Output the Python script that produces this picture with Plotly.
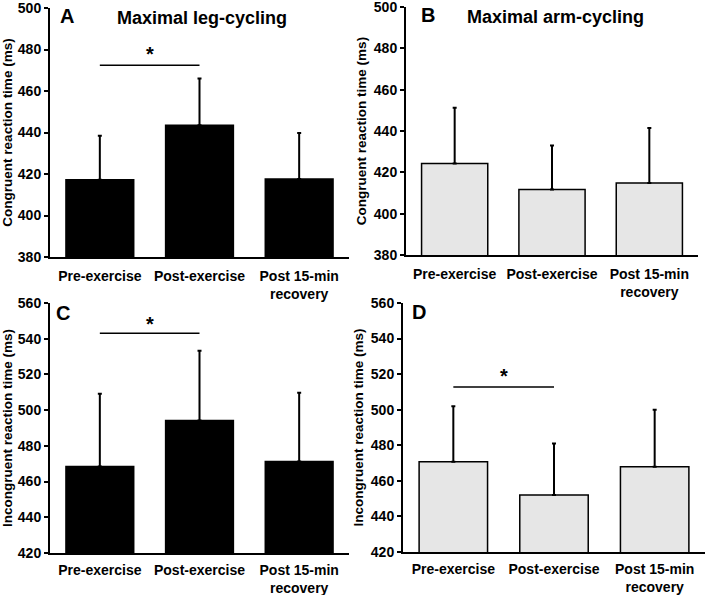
import plotly.graph_objects as go

categories = ['Pre-exercise', 'Post-exercise', 'Post 15-min<br>recovery']

# congruent reaction time (ms), mean and upper SD
leg_congruent = [417.2, 443.5, 417.6]
leg_congruent_sd = [21.2, 22.5, 22.2]
arm_congruent = [424.3, 411.7, 414.8]
arm_congruent_sd = [27.0, 21.3, 26.6]

# incongruent reaction time (ms)
leg_incongruent = [468.4, 494.2, 471.2]
leg_incongruent_sd = [40.8, 39.0, 38.5]
arm_incongruent = [470.8, 452.0, 468.0]
arm_incongruent_sd = [31.2, 29.0, 32.0]

# significance bars: (line y, star y) per panel
sig_A = [472.4, 478.0]
sig_C = [543.0, 548.0]
sig_D = [512.8, 519.0]

BLACK = '#000000'
GREY = '#e6e6e6'
FONT = 'Liberation Sans, Arial, sans-serif'

fig = go.Figure()

panels = [
    # values, sd, fill, xaxis, yaxis
    (leg_congruent, leg_congruent_sd, BLACK, 'x', 'y'),
    (arm_congruent, arm_congruent_sd, GREY, 'x2', 'y2'),
    (leg_incongruent, leg_incongruent_sd, BLACK, 'x3', 'y3'),
    (arm_incongruent, arm_incongruent_sd, GREY, 'x4', 'y4'),
]

for vals, sd, fill, xa, ya in panels:
    fig.add_trace(go.Bar(
        x=categories, y=vals, xaxis=xa, yaxis=ya,
        marker=dict(color=fill, line=dict(color=BLACK, width=1.5)),
        error_y=dict(type='data', array=sd, arrayminus=[0, 0, 0], symmetric=False,
                     color=BLACK, thickness=2, width=2),
        showlegend=False,
    ))

for sig, xa, ya in [(sig_A, 'x', 'y'), (sig_C, 'x3', 'y3'), (sig_D, 'x4', 'y4')]:
    fig.add_trace(go.Scatter(
        x=categories[:2], y=[sig[0], sig[0]], xaxis=xa, yaxis=ya,
        mode='lines', line=dict(color=BLACK, width=1.5), showlegend=False,
    ))
    fig.add_annotation(x=0.5, y=sig[1], xref=xa, yref=ya, text='<b>*</b>',
                       showarrow=False, font=dict(size=20, color=BLACK, family=FONT))

W, H = 707, 595


def px_x(a, b):
    return [a / W, b / W]


def px_y(top, bottom):
    return [1 - bottom / H, 1 - top / H]


xdom = {'x': px_x(50, 349), 'x2': px_x(406, 698), 'x3': px_x(50, 349), 'x4': px_x(403, 705)}
ydom = {'y': px_y(8, 257), 'y2': px_y(7, 255), 'y3': px_y(303, 553), 'y4': px_y(303, 552)}
yranges = {'y': [380, 500], 'y2': [380, 500], 'y3': [420, 560], 'y4': [420, 560]}
ytitles = {'y': 'Congruent reaction time (ms)', 'y2': 'Congruent reaction time (ms)',
           'y3': 'Incongruent reaction time (ms)', 'y4': 'Incongruent reaction time (ms)'}
xticklen = {'x': 5, 'x2': 5, 'x3': 3, 'x4': 3}

axis_common = dict(showline=True, linecolor=BLACK, linewidth=2, showgrid=False,
                   zeroline=False, automargin=False, ticklabeloverflow='allow',
                   tickfont=dict(family=FONT, size=14, color=BLACK))

layout = {}
for i, (xa, ya) in enumerate([('x', 'y'), ('x2', 'y2'), ('x3', 'y3'), ('x4', 'y4')]):
    suffix = '' if i == 0 else str(i + 1)
    layout['xaxis' + suffix] = dict(
        axis_common, domain=xdom[xa], anchor=ya, type='category',
        ticks='outside', ticklen=xticklen[xa], tickcolor='rgba(0,0,0,0)',
        tickprefix='<b>', ticksuffix='</b>', range=[-0.5, 2.5])
    layout['yaxis' + suffix] = dict(
        axis_common, domain=ydom[ya], anchor=xa, range=yranges[ya], dtick=20,
        ticks='outside', ticklen=4, tickwidth=1.5, tickcolor=BLACK,
        tickprefix='<b>', ticksuffix='</b>',
        title=dict(text='<b>' + ytitles[ya] + '</b>', standoff=4,
                   font=dict(family=FONT, size=13.5, color=BLACK)))

fig.update_layout(**layout)

fig.update_layout(
    width=W, height=H,
    margin=dict(l=0, r=0, t=0, b=0, autoexpand=False),
    paper_bgcolor='white', plot_bgcolor='white',
    bargap=0.32,
    font=dict(family=FONT, color=BLACK),
)

# panel letters and titles
labels = [('A', 67, 16), ('B', 428, 15), ('C', 63, 313), ('D', 419, 312)]
for letter, lx, ly in labels:
    fig.add_annotation(x=lx / W, y=1 - ly / H, xref='paper', yref='paper',
                       xanchor='center', yanchor='middle',
                       text='<b>' + letter + '</b>', showarrow=False,
                       font=dict(size=20, family=FONT, color=BLACK))

fig.add_annotation(x=202 / W, y=1 - 18 / H, xref='paper', yref='paper',
                   xanchor='center', yanchor='middle',
                   text='<b>Maximal leg-cycling</b>', showarrow=False,
                   font=dict(size=18, family=FONT, color=BLACK))
fig.add_annotation(x=555 / W, y=1 - 17 / H, xref='paper', yref='paper',
                   xanchor='center', yanchor='middle',
                   text='<b>Maximal arm-cycling</b>', showarrow=False,
                   font=dict(size=18, family=FONT, color=BLACK))

fig.write_html('out.html', config={'displayModeBar': False},
               post_script="document.body.style.margin='0';")
